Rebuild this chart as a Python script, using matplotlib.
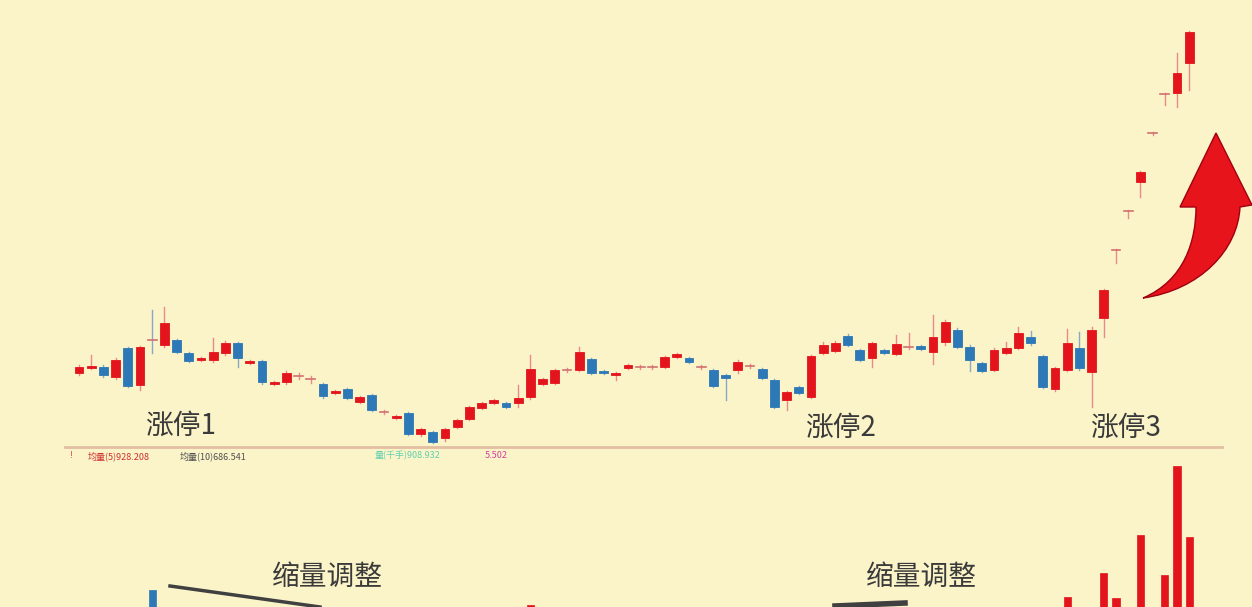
import matplotlib
matplotlib.use("Agg")
import matplotlib.pyplot as plt
from matplotlib.patches import PathPatch, Rectangle
from matplotlib.path import Path
from matplotlib.lines import Line2D

plt.rcParams['font.family'] = ['Noto Sans CJK SC', 'DejaVu Sans']

opens = [234,239,240,230,259,222,267,262,267,254,247,247,254,264,244,246,223,225,231,228,
         223,214,218,205,212,195,189,194,173,175,169,180,188,199,204,204,204,210,223,224,
         237,237,248,236,232,239,240,240,240,250,249,240,237,232,237,241,238,227,207,220,
         210,254,256,271,257,249,257,253,260,261,255,265,277,260,244,237,254,259,270,251,
         218,237,259,235,289,357,396,425,474,513,514,544]
closes = [240,241,232,247,221,260,266.5,284,255,246,249,255,264,249,246,225,225,234,231.5,228.5,
          211,216,209,210,197,195.5,191,173,178,165,178,187,200,204,207,200,209,238,228,237,
          237.5,255,234,234,234,242,240.5,240.5,250,253,245,240.5,221,229,245,241.5,229,200,215,214,
          251,262,264,262,247,264,254,263,260.5,258,270,285,260,247,236,257,259,274,264,220,
          239,264,239,277,317,357.5,396.5,435,474.5,513.5,534,575]
highs = [242,252,242,249,260,261,297,300,268,255,250,269,266,265,247,247,226,236,234,231,
         224,217,219,211,213,197,192,195,179,176,179,188,201,205,208,205,222,252,229,238,
         239,260,249,237,235,243,242,242,251,254,250,242,238,233,247,243,239,228,216,221,
         252,265,266,273,258,265,258,272,274,262,292,287,279,262,245,259,265,280,276,252,
         240,278,275,280,318,358,397,436,475,514,554,576]
lows = [232,238,230,228,220,217,254,260,254,245,246,245,252,240,243,223,222,223,228,224,
        209,213,208,204,196,193,188,172,171,164,166,179,187,198,203,199,200,208,222,223,
        235,236,233,233,227,238,238,238,239,249,244,238,220,207,234,239,228,199,197,213,
        209,253,255,261,246,240,253,252,258,257,243,262,259,236,235,236,253,258,262,219,
        216,236,237,200,270,344,389,410,472,502,500,517]
volumes = [60]*92
for i, v in {6:117, 37:102, 81:110, 84:134, 85:109, 87:172, 89:132, 90:241, 91:170}.items():
    volumes[i] = v

labels_up = ["涨停1", "涨停2", "涨停3"]
labels_vol = ["缩量调整", "缩量调整"]

BG = "#fbf4c9"
RED = "#e3141c"
BLUE = "#2d78b6"

W, H = 1252, 607
fig = plt.figure(figsize=(W/100, H/100), dpi=100, facecolor=BG)

def fx(x): return x / W
def fy(y): return 1 - y / H

ax = fig.add_axes([0, 0, 1, 1])
ax.set_facecolor(BG)
ax.set_xlim(-79/12.2, (W-79)/12.2)
ax.set_ylim(0, H)
ax.axis("off")

bw = 0.72
for i, (o, c, h, l) in enumerate(zip(opens, closes, highs, lows)):
    up = c >= o
    col = RED if up else BLUE
    wick = "#e88a8a" if up else "#8aa8c8"
    ax.add_line(Line2D([i, i], [l, h], color=wick, lw=1, zorder=2))
    if abs(c - o) < 1:
        ax.add_line(Line2D([i-bw/2, i+bw/2], [o, o], color="#d07070", lw=1.2, zorder=3))
    else:
        ax.add_patch(Rectangle((i-bw/2, min(o, c)), bw, abs(c-o), facecolor=col,
                               edgecolor=col, lw=0.6, zorder=3))

# volume panel
axv = fig.add_axes([0, 0, 1, fy(457)])
axv.set_facecolor("none")
axv.set_xlim(-79/12.2, (W-79)/12.2)
axv.set_ylim(100, 250)
axv.axis("off")
vcols = [RED if c >= o else BLUE for o, c in zip(opens, closes)]
axv.bar(range(len(volumes)), volumes, width=0.6, color=vcols, edgecolor=vcols, lw=0.5)

# separator
fig.add_artist(Line2D([fx(65), fx(1222)], [fy(447), fy(447)], color="#e2bea2", lw=2))

# legend texts
fs = 6.5
fig.text(fx(69), fy(456), "!", color="#d04040", fontsize=fs, va="center")
fig.text(fx(88), fy(456), "均量(5)928.208", color="#d03030", fontsize=fs, va="center")
fig.text(fx(180), fy(456), "均量(10)686.541", color="#505050", fontsize=fs, va="center")
fig.text(fx(375), fy(456), "量(千手)908.932", color="#60d0b0", fontsize=fs, va="center")
fig.text(fx(485), fy(456), "5.502", color="#d040a0", fontsize=fs, va="center")

# annotations
for (x, y), t in zip([(181, 426), (841, 428), (1126, 428)], labels_up):
    fig.text(fx(x), fy(y), t, fontsize=20, color="#3a3a3a", ha="center", va="center")
for (x, y), t in zip([(327, 577), (921, 577)], labels_vol):
    fig.text(fx(x), fy(y), t, fontsize=20, color="#3a3a3a", ha="center", va="center")

# pointer lines
fig.add_artist(Line2D([fx(170), fx(320)], [fy(586), fy(607)], color="#404040", lw=2.5))
fig.add_artist(Line2D([fx(835), fx(905)], [fy(606), fy(603)], color="#404040", lw=4))

# red curved arrow (decoration)
pts = [(1143, 298), (1185, 280), (1196, 240), (1196, 207), (1180, 207), (1216, 133),
       (1252, 205), (1240, 207), (1238, 250), (1200, 290), (1143, 298)]
codes = [Path.MOVETO, Path.CURVE4, Path.CURVE4, Path.CURVE4, Path.LINETO, Path.LINETO,
         Path.LINETO, Path.LINETO, Path.CURVE4, Path.CURVE4, Path.CURVE4]
path = Path([(fx(x), fy(y)) for x, y in pts], codes)
fig.add_artist(PathPatch(path, facecolor="#e8141c", edgecolor="#a00010", lw=1,
                         transform=fig.transFigure))

fig.savefig("out.png", dpi=100, facecolor=BG)
